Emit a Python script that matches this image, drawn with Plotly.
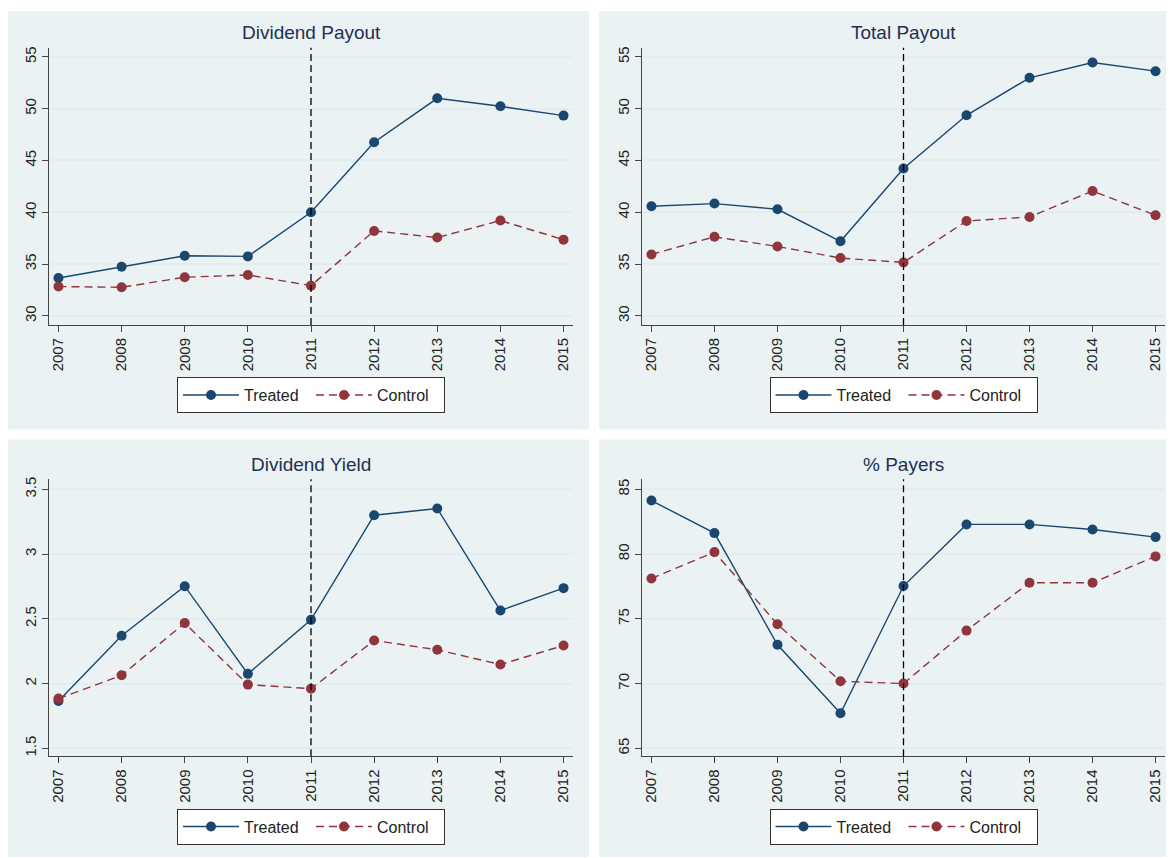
import plotly.graph_objects as go

years = [2007, 2008, 2009, 2010, 2011, 2012, 2013, 2014, 2015]
year_labels = [str(y) for y in years]

titles = ["Dividend Payout", "Total Payout", "Dividend Yield", "% Payers"]

div_payout_treated = [33.66, 34.74, 35.80, 35.74, 40.00, 46.76, 51.00, 50.23, 49.33]
div_payout_control = [32.83, 32.76, 33.73, 33.95, 32.92, 38.20, 37.56, 39.20, 37.36]

tot_payout_treated = [40.58, 40.84, 40.29, 37.20, 44.23, 49.36, 52.98, 54.45, 53.62]
tot_payout_control = [35.93, 37.63, 36.70, 35.58, 35.16, 39.16, 39.55, 42.05, 39.71]

div_yield_treated = [1.866, 2.369, 2.752, 2.075, 2.492, 3.30, 3.352, 2.564, 2.737]
div_yield_control = [1.884, 2.064, 2.467, 1.992, 1.961, 2.333, 2.261, 2.147, 2.294]

payers_treated = [84.13, 81.62, 73.00, 67.71, 77.53, 82.29, 82.29, 81.90, 81.31]
payers_control = [78.12, 80.15, 74.58, 70.18, 70.00, 74.09, 77.79, 77.79, 79.82]

y_ticks = [
    [30, 35, 40, 45, 50, 55],
    [30, 35, 40, 45, 50, 55],
    [1.5, 2, 2.5, 3, 3.5],
    [65, 70, 75, 80, 85],
]
y_ticklabels = [
    ["30", "35", "40", "45", "50", "55"],
    ["30", "35", "40", "45", "50", "55"],
    ["1.5", "2", "2.5", "3", "3.5"],
    ["65", "70", "75", "80", "85"],
]
y_ranges = [[29.13, 55.87], [29.13, 55.87], [1.438, 3.577], [64.38, 85.77]]
event_year = 2011

series = [
    (div_payout_treated, div_payout_control),
    (tot_payout_treated, tot_payout_control),
    (div_yield_treated, div_yield_control),
    (payers_treated, payers_control),
]

# the page body has an 8px margin, so the figure is drawn offset by 8px
OFF = 8
W, H = 1174 - OFF, 858 - OFF
BG = "#eaf2f3"
NAVY = "#1a476f"
MAROON = "#90353b"
FONT = "Liberation Sans, Arial, sans-serif"

# pixel geometry (screen coords) of each panel: (panel box), (plot area)
panels = [
    dict(box=(7, 5, 589, 428), plot=(49, 45, 573, 323)),
    dict(box=(599, 5, 1174, 428), plot=(642, 45, 1165, 323)),
    dict(box=(7, 438, 589, 857), plot=(49, 478, 573, 756)),
    dict(box=(599, 438, 1174, 857), plot=(642, 478, 1165, 756)),
]

def px(x):
    return (x - OFF) / W

def py(y):
    return 1 - (y - OFF) / H

fig = go.Figure()
shapes = []
annotations = []
layout = dict(
    width=W, height=H,
    margin=dict(l=0, r=0, t=0, b=0),
    paper_bgcolor="white",
    plot_bgcolor="white",
    font=dict(family=FONT, color="#222222"),
    showlegend=True,
)

for i, p in enumerate(panels):
    n = "" if i == 0 else str(i + 1)
    xa, ya = "x" + n, "y" + n
    leg = "legend" + n
    bx0, by0, bx1, by1 = p["box"]
    x0, y0, x1, y1 = p["plot"]
    shapes.append(dict(type="rect", xref="paper", yref="paper",
                       x0=max(px(bx0), 0), x1=min(px(bx1), 1),
                       y0=max(py(by1), 0), y1=min(py(by0), 1),
                       fillcolor=BG, line=dict(width=0), layer="below"))
    tr, ct = series[i]
    fig.add_trace(go.Scatter(
        x=years, y=tr, mode="lines+markers", name="Treated",
        xaxis=xa, yaxis=ya, legend=leg,
        line=dict(color=NAVY, width=1.4),
        marker=dict(color=NAVY, size=10, symbol="circle"),
    ))
    fig.add_trace(go.Scatter(
        x=years, y=ct, mode="lines+markers", name="Control",
        xaxis=xa, yaxis=ya, legend=leg,
        line=dict(color=MAROON, width=1.4, dash="8px,5px"),
        marker=dict(color=MAROON, size=10, symbol="circle"),
    ))
    layout["xaxis" + n] = dict(
        domain=[px(x0), px(x1)], anchor=ya,
        range=[2006.85, 2015.15],
        tickmode="array", tickvals=years, ticktext=year_labels,
        tickangle=-90, ticks="outside", ticklen=6, tickcolor="#444444",
        tickfont=dict(size=15, color="#222222"),
        showgrid=False, zeroline=False,
        showline=True, linecolor="#444444", linewidth=1.2,
    )
    layout["yaxis" + n] = dict(
        domain=[py(y1), py(y0)], anchor=xa,
        range=y_ranges[i],
        tickmode="array", tickvals=y_ticks[i], ticktext=y_ticklabels[i],
        tickangle=-90, ticks="outside", ticklen=6, tickcolor="#444444",
        tickfont=dict(size=15, color="#222222"),
        showgrid=True, gridcolor="#e3ecee", gridwidth=1.5, zeroline=False,
        showline=True, linecolor="#444444", linewidth=1.2,
    )
    layout[leg] = dict(
        orientation="h", xref="paper", yref="paper",
        x=px((x0 + x1) / 2), xanchor="center",
        y=py(by0 + 388.5), yanchor="middle",
        bgcolor="white", bordercolor="#333333", borderwidth=1,
        font=dict(size=16, color="#222222", family=FONT),
        itemwidth=56, entrywidth=62,
    )
    shapes.append(dict(type="line", xref=xa, yref=ya + " domain",
                       x0=event_year, x1=event_year, y0=0, y1=1,
                       line=dict(color="black", width=1.3, dash="7px,4px")))
    annotations.append(dict(
        text=titles[i], xref="paper", yref="paper",
        x=px((x0 + x1) / 2), y=py(by0 + 25), xanchor="center", yanchor="middle",
        showarrow=False, font=dict(size=19, color="#1f3050", family=FONT),
    ))

layout["shapes"] = shapes
layout["annotations"] = annotations
fig.update_layout(**layout)
fig.write_html("out.html")
